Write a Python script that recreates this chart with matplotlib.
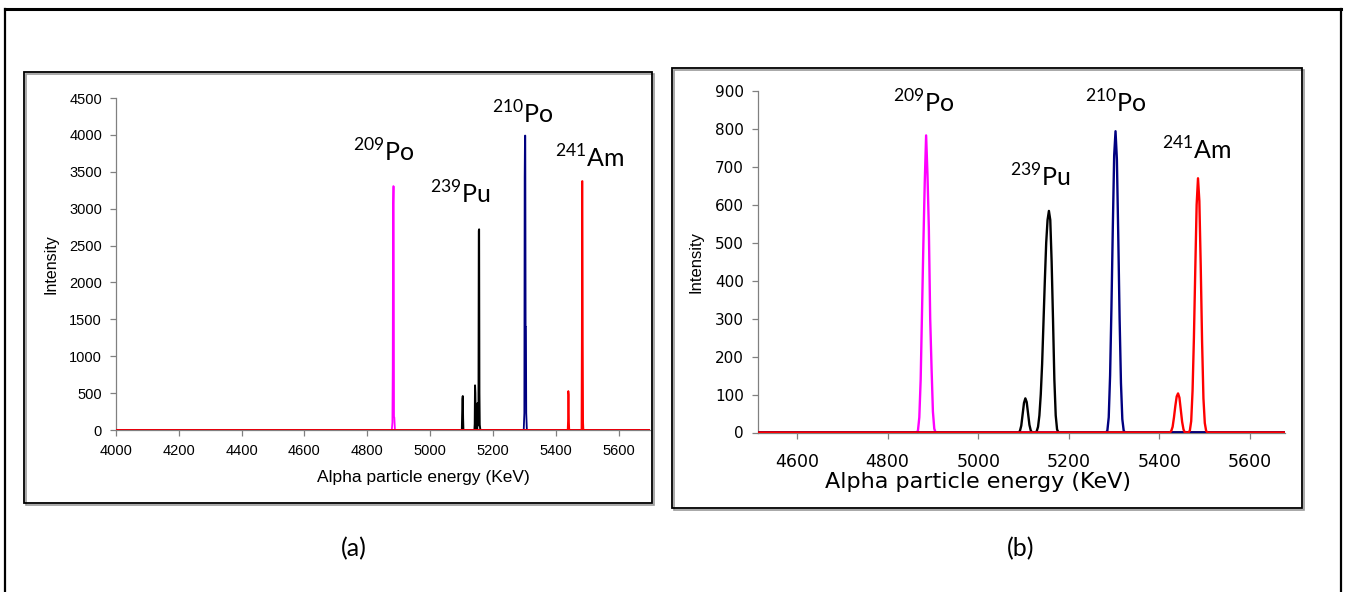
import matplotlib
matplotlib.use('Agg')
import matplotlib.pyplot as plt
from matplotlib.patches import Rectangle
from matplotlib.lines import Line2D

# ---------------- data ----------------
# panel (a): narrow spectrum lines
a_pink_x = [4000, 4878, 4880, 4881, 4882, 4883, 4884, 4885, 4886, 4888, 5700]
a_pink_y = [0, 0, 100, 830, 3020, 3306, 3300, 180, 170, 0, 0]
a_black_x = [4000, 5101, 5103, 5104, 5105, 5106, 5141, 5142, 5143, 5144, 5145, 5146,
             5148, 5150, 5151, 5152, 5154, 5155, 5156, 5157, 5158, 5160, 5700]
a_black_y = [0, 0, 420, 460, 160, 0, 0, 80, 605, 500, 180, 60,
             0, 0, 365, 60, 300, 2700, 2720, 500, 70, 0, 0]
a_blue_x = [4000, 5298, 5300, 5301, 5302, 5303, 5304, 5305, 5306, 5308, 5700]
a_blue_y = [0, 0, 230, 3424, 3990, 3990, 1398, 1398, 230, 0, 0]
a_red_x = [4000, 5438, 5439, 5440, 5441, 5442, 5443, 5482, 5483, 5484, 5485, 5486, 5487, 5488, 5700]
a_red_y = [0, 0, 120, 528, 480, 100, 0, 0, 1187, 3374, 3374, 1187, 100, 0, 0]

# panel (b): broadened peaks
b_pink_x = [4514, 4864, 4867, 4870, 4873, 4876, 4879, 4882, 4885, 4888, 4891, 4894,
            4897, 4900, 4903, 4906, 5677]
b_pink_y = [0, 0, 5, 40, 140, 320, 500, 660, 783, 680, 540, 300, 170, 55, 10, 0, 0]
b_black_x = [4514, 5089, 5092, 5095, 5098, 5101, 5104, 5107, 5110, 5113, 5116, 5119,
             5126, 5129, 5132, 5135, 5138, 5141, 5144, 5147, 5150, 5153, 5156, 5159,
             5162, 5165, 5168, 5171, 5174, 5177, 5677]
b_black_y = [0, 0, 4, 18, 48, 78, 90, 80, 50, 20, 5, 0,
             0, 3, 15, 45, 100, 180, 290, 400, 500, 560, 584, 560,
             450, 300, 140, 45, 8, 0, 0]
b_blue_x = [4514, 5282, 5285, 5288, 5291, 5294, 5297, 5300, 5303, 5306, 5309, 5312,
            5315, 5318, 5321, 5324, 5677]
b_blue_y = [0, 0, 5, 40, 150, 330, 540, 730, 794, 720, 520, 300, 130, 35, 5, 0, 0]
b_red_x = [4514, 5423, 5426, 5429, 5432, 5435, 5438, 5441, 5444, 5447, 5450, 5453, 5456,
           5464, 5467, 5470, 5473, 5476, 5479, 5482, 5485, 5488, 5491, 5494, 5497,
           5500, 5503, 5506, 5677]
b_red_y = [0, 0, 4, 15, 40, 70, 95, 103, 92, 60, 28, 8, 0,
           0, 5, 30, 110, 250, 430, 600, 670, 610, 440, 240, 90,
           25, 4, 0, 0]

a_xticks = [4000, 4200, 4400, 4600, 4800, 5000, 5200, 5400, 5600]
a_yticks = [0, 500, 1000, 1500, 2000, 2500, 3000, 3500, 4000, 4500]
b_xticks = [4600, 4800, 5000, 5200, 5400, 5600]
b_yticks = [0, 100, 200, 300, 400, 500, 600, 700, 800, 900]

iso_labels = ['209', '239', '210', '241']
iso_names = ['Po', 'Pu', 'Po', 'Am']
a_label_pos = [(4755, 3640), (5000, 3070), (5197, 4150), (5397, 3560)]
b_label_pos = [(4812, 843), (5071, 648), (5236, 843), (5406, 719)]

colors = {'pink': '#FF00FF', 'black': '#000000', 'blue': '#000080', 'red': '#FF0000'}

# ---------------- figure ----------------
W, H = 1347, 592
fig = plt.figure(figsize=(W / 100, H / 100), dpi=100)


def fx(px):
    return px / W


def fy(py):
    return 1 - py / H


def rect_px(x0, y0, x1, y1):
    return [fx(x0), fy(y1), fx(x1) - fx(x0), fy(y0) - fy(y1)]


# outer frame (left, top, right)
for (xs, ys, lw) in [([5, 5], [9, 592], 1.6), ([5, 1341], [9, 9], 2.2), ([1341, 1341], [9, 592], 1.6)]:
    fig.add_artist(Line2D([fx(v) for v in xs], [fy(v) for v in ys], color='black', lw=lw,
                          transform=fig.transFigure))

# panel boxes with shadow
for (x0, y0, x1, y1) in [(24, 72, 652, 503), (672, 68, 1302, 508)]:
    fig.add_artist(Rectangle((fx(x0 + 2), fy(y1 + 2)), fx(x1) - fx(x0), fy(y0) - fy(y1),
                             transform=fig.transFigure, fill=False, ec='#9a9a9a', lw=1.2))
    fig.add_artist(Rectangle((fx(x0), fy(y1)), fx(x1) - fx(x0), fy(y0) - fy(y1),
                             transform=fig.transFigure, fill=False, ec='black', lw=1.3))

spine_col = '#808080'


def style_axes(ax, tickfont, xsize, ysize, pad_x, pad_y):
    for s in ['top', 'right']:
        ax.spines[s].set_visible(False)
    for s in ['left', 'bottom']:
        ax.spines[s].set_color(spine_col)
        ax.spines[s].set_linewidth(0.9)
    ax.tick_params(axis='both', direction='out', length=4, width=0.9, color=spine_col,
                   labelcolor='black')
    ax.tick_params(axis='x', pad=pad_x)
    ax.tick_params(axis='y', pad=pad_y)
    for lab in ax.get_xticklabels():
        lab.set_fontfamily(tickfont)
        lab.set_fontsize(xsize)
    for lab in ax.get_yticklabels():
        lab.set_fontfamily(tickfont)
        lab.set_fontsize(ysize)
    ax.patch.set_alpha(0)


# ---- panel (a)
axa = fig.add_axes(rect_px(116, 98, 650, 430))
axa.plot(a_pink_x, a_pink_y, color=colors['pink'], lw=1.3, zorder=2)
axa.plot(a_black_x, a_black_y, color=colors['black'], lw=1.4, zorder=3)
axa.plot(a_blue_x, a_blue_y, color=colors['blue'], lw=1.3, zorder=4)
axa.plot(a_red_x, a_red_y, color=colors['red'], lw=1.3, zorder=5)
axa.set_xlim(4000, 5700)
axa.set_ylim(0, 4500)
axa.set_xticks(a_xticks)
axa.set_yticks(a_yticks)
style_axes(axa, 'Liberation Sans', 10.5, 10.5, 6, 6)
axa.set_xlabel('Alpha particle energy (KeV)', fontfamily='Liberation Sans', fontsize=12.5)
axa.xaxis.set_label_coords(0.575, -0.12)
axa.set_ylabel('Intensity', fontfamily='Liberation Sans', fontsize=11.5)
axa.yaxis.set_label_coords(-0.107, 0.50)
for (num, nm, (x, y)) in zip(iso_labels, iso_names, a_label_pos):
    axa.text(x, y, r'$^{\mathregular{%s}}$%s' % (num, nm), fontfamily='Lato', fontsize=18,
             ha='left', va='baseline')

# ---- panel (b)
axb = fig.add_axes(rect_px(758, 91, 1285, 432.5))
axb.plot(b_pink_x, b_pink_y, color=colors['pink'], lw=1.7, zorder=2)
axb.plot(b_black_x, b_black_y, color=colors['black'], lw=1.7, zorder=3)
axb.plot(b_blue_x, b_blue_y, color=colors['blue'], lw=1.7, zorder=4)
axb.plot(b_red_x, b_red_y, color=colors['red'], lw=1.7, zorder=5)
axb.set_xlim(4514, 5677)
axb.set_ylim(0, 900)
axb.set_xticks(b_xticks)
axb.set_yticks(b_yticks)
style_axes(axb, 'DejaVu Sans', 12.5, 11, 11, 6)
axb.set_xlabel('Alpha particle energy (KeV)', fontfamily='DejaVu Sans', fontsize=16)
axb.xaxis.set_label_coords(0.417, -0.115)
axb.set_ylabel('Intensity', fontfamily='Liberation Sans', fontsize=12)
axb.yaxis.set_label_coords(-0.104, 0.50)
for (num, nm, (x, y)) in zip(iso_labels, iso_names, b_label_pos):
    axb.text(x, y, r'$^{\mathregular{%s}}$%s' % (num, nm), fontfamily='Lato', fontsize=18,
             ha='left', va='baseline')

# panel captions
fig.text(fx(354), fy(549), '(a)', fontfamily='Lato', fontsize=18, ha='center', va='center')
fig.text(fx(1021), fy(549), '(b)', fontfamily='Lato', fontsize=18, ha='center', va='center')

fig.savefig('out.png', dpi=100)
